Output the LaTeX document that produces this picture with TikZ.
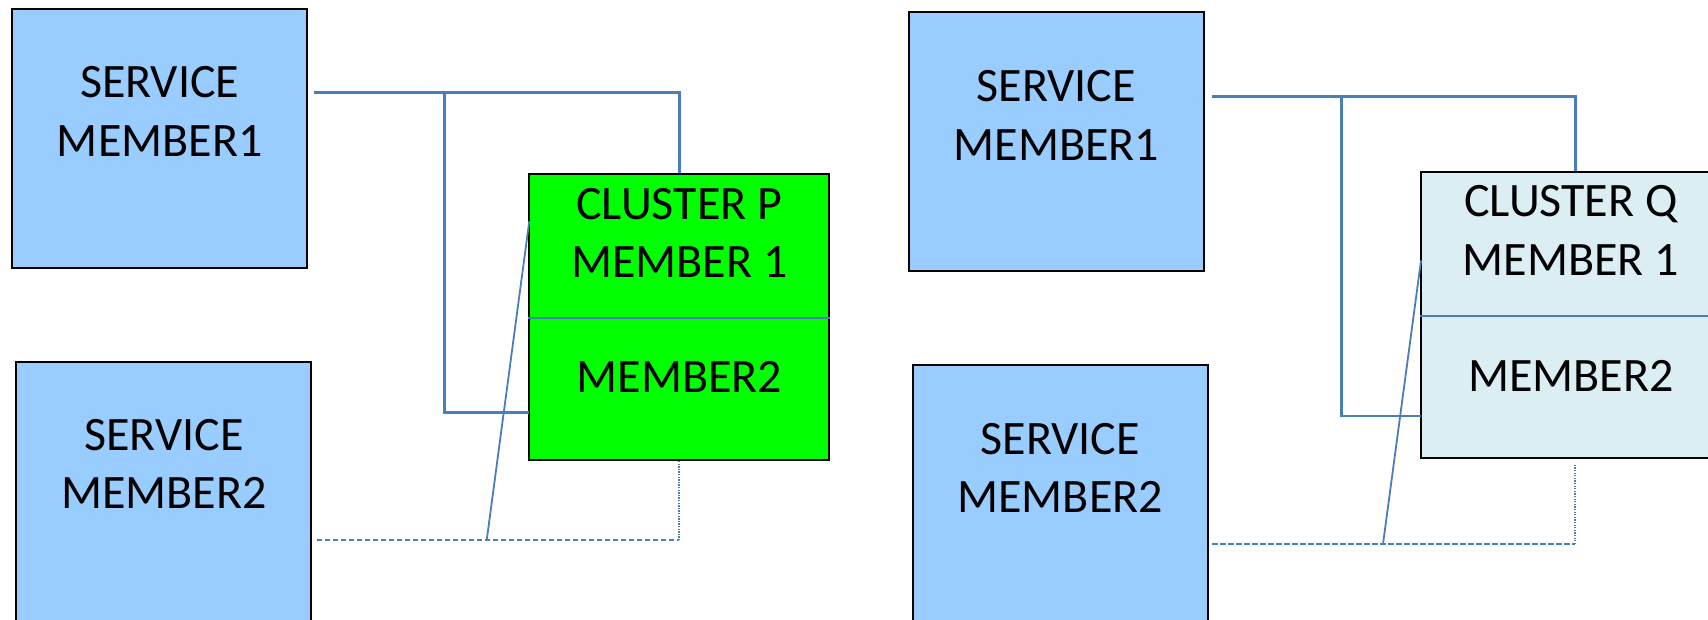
\documentclass[tikz,border=0pt]{standalone}
\usepackage{fontspec}
\setmainfont{Carlito}
\definecolor{svcblue}{HTML}{99CCFF}
\definecolor{clusgreen}{HTML}{00FF00}
\definecolor{clusaqua}{HTML}{DAEEF3}
\definecolor{linkblue}{HTML}{4A7EBB}
\begin{document}
\begin{tikzpicture}[x=1pt,y=-1pt,
  box/.style={rectangle, draw=black, line width=2pt, inner sep=0pt},
  svcbox/.style={box, fill=svcblue, minimum width=295pt, minimum height=259pt},
  clusbox/.style={box, minimum width=300pt, minimum height=286pt},
  lbl/.style={anchor=base, inner sep=0pt, font=\fontsize{48}{58}\selectfont},
  conn/.style={draw=linkblue, line width=2.6pt},
  divline/.style={draw=linkblue, line width=1.7pt},
  slant/.style={draw=linkblue, line width=1.8pt},
  dashlink/.style={draw=linkblue, line width=2pt, dash pattern=on 5.5pt off 2.5pt},
  dotlink/.style={draw=linkblue, line width=1.8pt, dash pattern=on 1.3pt off 1.3pt}]

\useasboundingbox (0,0) rectangle (1708,619);
\clip (0,0) rectangle (1708,619);

% ---------- left group: cluster P ----------
\node[svcbox] (lsm1) at (159.7,138) {};
\node[svcbox] (lsm2) at (163.9,491.3) {};
\node[clusbox, fill=clusgreen] (lP) at (679.3,317.3) {};

\node[lbl] (lsm1a) at (159.7,97.5) {SERVICE};
\node[lbl] (lsm1b) at (159.7,156) {MEMBER1};
\node[lbl] (lsm2a) at (163.9,450) {SERVICE};
\node[lbl] (lsm2b) at (163.9,508.5) {MEMBER2};
\node[lbl] (lPa) at (679.3,219) {CLUSTER P};
\node[lbl] (lPb) at (679.3,277.5) {MEMBER 1};
\node[lbl] (lPc) at (679.3,392.7) {MEMBER2};

\coordinate (lDiv) at (0,318);
\draw[divline] (lP.west |- lDiv) -- (lP.east |- lDiv);

\coordinate (lTopStart) at (314,92.3);
\coordinate (lBranch) at (444.3,92.3);
\coordinate (lBranchIn) at (529.3,412.3);
\coordinate (lBotStart) at (316.7,540.3);
\coordinate (lSlantFoot) at (486.7,540.3);
\coordinate (lSlantHead) at (529.3,221);
\coordinate (lBotCorner) at (679.3,540.3);

\draw[conn] (lTopStart) -- (lP.north |- lTopStart) -- (lP.north);
\draw[conn] (lBranch) |- (lBranchIn);
\draw[slant] (lSlantFoot) -- (lSlantHead);
\draw[dashlink] (lBotStart) -- (lBotCorner);
\draw[dotlink] (lBotCorner) -- (lP.south);

% ---------- right group: cluster Q ----------
\node[svcbox] (rsm1) at (1056.4,141.7) {};
\node[svcbox] (rsm2) at (1060.2,494.5) {};
\node[clusbox, fill=clusaqua] (rQ) at (1571,315.2) {};

\node[lbl] (rsm1a) at (1056.4,101) {SERVICE};
\node[lbl] (rsm1b) at (1056.4,160) {MEMBER1};
\node[lbl] (rsm2a) at (1060.2,454.8) {SERVICE};
\node[lbl] (rsm2b) at (1060.2,512.5) {MEMBER2};
\node[lbl] (rQa) at (1571,216.8) {CLUSTER Q};
\node[lbl] (rQb) at (1571,275) {MEMBER 1};
\node[lbl] (rQc) at (1571,391) {MEMBER2};

\coordinate (rDiv) at (0,316);
\draw[divline] (rQ.west |- rDiv) -- (rQ.east |- rDiv);

\coordinate (rTopStart) at (1211.5,96.3);
\coordinate (rBranch) at (1341.5,96.3);
\coordinate (rBranchIn) at (1421,416);
\coordinate (rBotStart) at (1212.4,544);
\coordinate (rSlantFoot) at (1383,544);
\coordinate (rSlantHead) at (1421,260.5);
\coordinate (rBotCorner) at (1575.3,544);
\coordinate (rDotTop) at (1575.3,465);

\draw[conn] (rTopStart) -- (1575.3,96.3) coordinate (rTopCorner) -- (rTopCorner |- rQ.north);
\draw[conn] (rBranch) |- (rBranchIn);
\draw[slant] (rSlantFoot) -- (rSlantHead);
\draw[dashlink] (rBotStart) -- (rBotCorner);
\draw[dotlink] (rBotCorner) -- (rDotTop);
\end{tikzpicture}
\end{document}
